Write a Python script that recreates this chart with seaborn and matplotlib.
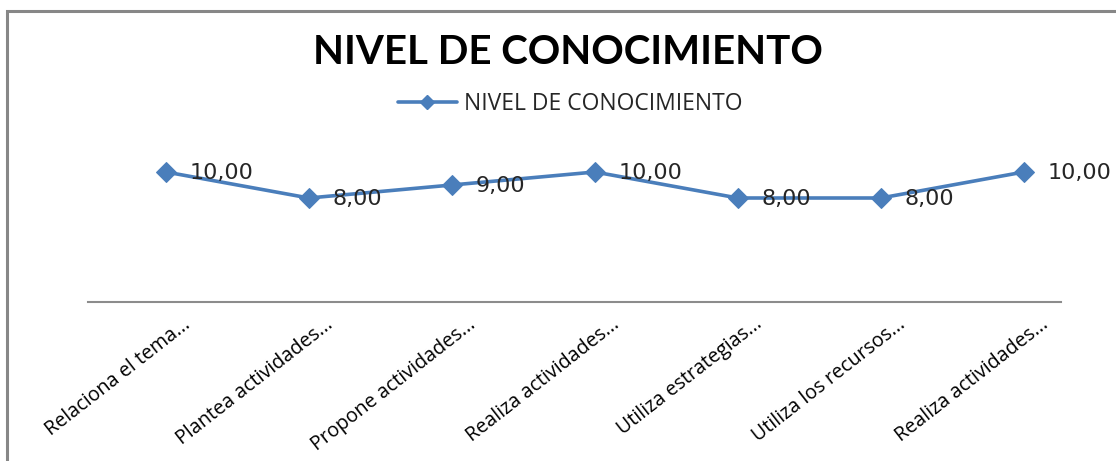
import matplotlib
matplotlib.use("Agg")
import matplotlib.pyplot as plt
import matplotlib.transforms as mtransforms
from matplotlib.patches import Rectangle
from matplotlib.lines import Line2D
import seaborn as sns
import pandas as pd

categories = [
    "Relaciona el tema...",
    "Plantea actividades...",
    "Propone actividades...",
    "Realiza actividades...",
    "Utiliza estrategias...",
    "Utiliza los recursos...",
    "Realiza actividades...",
]
values = [10, 8, 9, 10, 8, 8, 10]
series_name = "NIVEL DE CONOCIMIENTO"
title = "NIVEL DE CONOCIMIENTO"

sns.set_theme(style="white")
plt.rcParams["font.family"] = ["Lato", "DejaVu Sans"]

W, H = 1116, 461
fig = plt.figure(figsize=(W / 100, H / 100), dpi=100)
fig.patch.set_facecolor("white")

left, right = 88, 1061
top_px, bottom_px = 146, 302
ax = fig.add_axes([left / W, 1 - bottom_px / H, (right - left) / W, (bottom_px - top_px) / H])

df = pd.DataFrame({"x": list(range(len(categories))), "y": values})
color = "#4A7EBB"
sns.lineplot(data=df, x="x", y="y", ax=ax, color=color, linewidth=2.6,
             marker="D", markersize=10, markeredgecolor=color, markerfacecolor=color)

ax.set_xlim(-0.545, len(categories) - 1 + 0.26)
ax.set_ylim(0, 12)
ax.set_xlabel("")
ax.set_ylabel("")
ax.set_yticks([])
ax.set_xticks(range(len(categories)))
ax.set_xticklabels([])
ax.tick_params(axis="x", length=0)
for s in ["top", "right", "left"]:
    ax.spines[s].set_visible(False)
ax.spines["bottom"].set_color("#8C8C8C")
ax.spines["bottom"].set_linewidth(1.5)
ax.patch.set_alpha(0)

# category labels rotated
for i, lab in enumerate(categories):
    off = mtransforms.offset_copy(ax.get_xaxis_transform(), fig=fig, x=22, y=-20, units="dots")
    ax.text(i, 0, lab, transform=off, rotation=38, rotation_mode="anchor",
            ha="right", va="center", fontsize=14.2, color="#000000",
            family=["Open Sans", "DejaVu Sans"])

# data labels
for i, v in enumerate(values):
    off = mtransforms.offset_copy(ax.transData, fig=fig, x=24, y=-1, units="dots")
    ax.text(i, v, f"{v:.2f}".replace(".", ","), transform=off, ha="left", va="center",
            fontsize=16, color="#262626", family=["DejaVu Sans"])

# title
fig.text(568 / W, 1 - 53 / H, title, ha="center", va="center", fontsize=29,
         fontweight="bold", color="#000000")

# legend
handle = Line2D([], [], color=color, linewidth=2.6, marker="D", markersize=7,
                markerfacecolor=color, markeredgecolor=color)
leg = fig.legend([handle], [series_name], loc="center", bbox_to_anchor=(570 / W, 1 - 104 / H),
                 frameon=False, handlelength=2.6, handletextpad=0.3,
                 prop={"family": ["Open Sans", "DejaVu Sans"], "size": 16.5})

# outer frame (cut off at right and bottom like the reference)
frame = Rectangle((7 / W, -0.1), 1.2, 1 - 11 / H + 0.1, transform=fig.transFigure,
                  fill=False, edgecolor="#878787", linewidth=2.2, clip_on=False)
fig.patches.append(frame)

fig.savefig("out.png", dpi=100)
